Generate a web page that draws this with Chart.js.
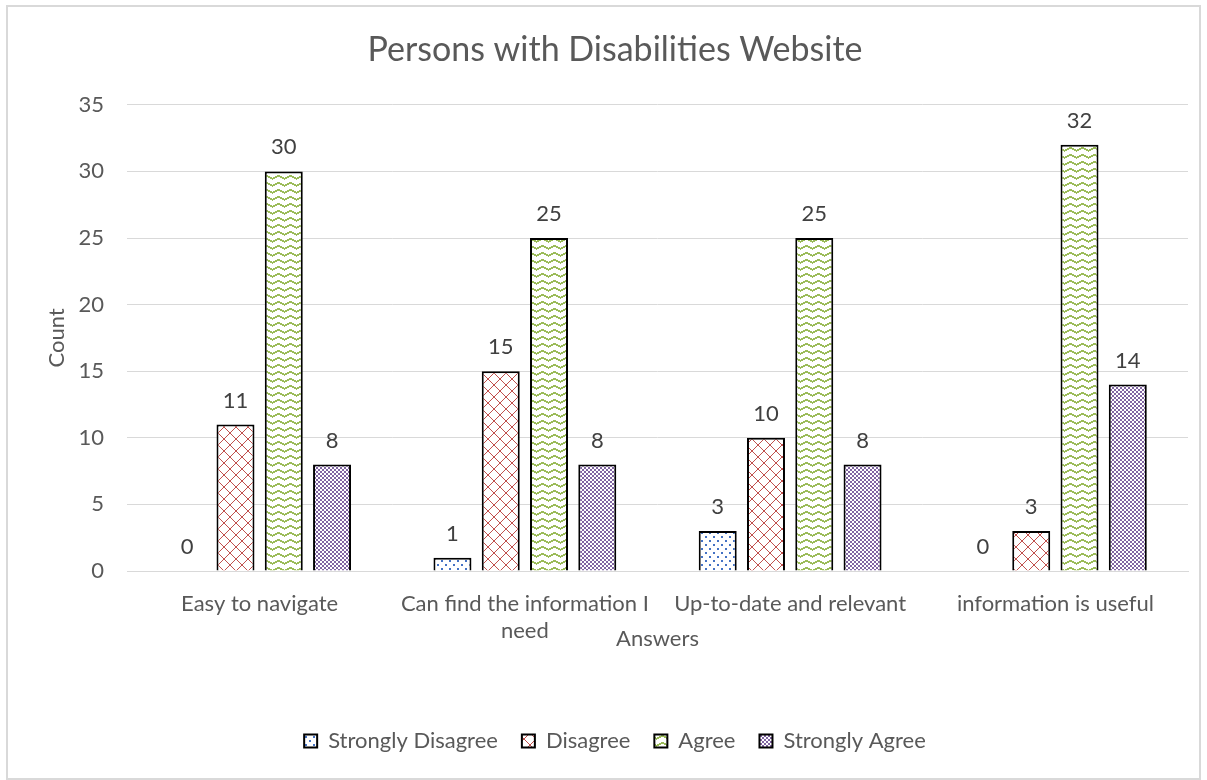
<!DOCTYPE html>
<html>
<head>
<meta charset="utf-8">
<script src="https://cdn.jsdelivr.net/npm/chart.js@4"></script>
<style>
    body { margin: 0; background: #fff; }
    #wrap {
        position: absolute; left: 6px; top: 5px;
        width: 1191px; height: 771px;
        border: 2px solid #d9d9d9;
    }
</style>
</head>
<body>
<div id="wrap"><canvas id="chart"></canvas></div>
<script>
const categories = [
    'Easy to navigate',
    ['Can find the information I', 'need'],
    'Up-to-date and relevant',
    'information is useful'
]
const stronglyDisagree = [0, 1, 3, 0]
const disagree = [11, 15, 10, 3]
const agree = [30, 25, 25, 32]
const stronglyAgree = [8, 8, 8, 14]
const yTicks = [0, 5, 10, 15, 20, 25, 30, 35]

const FONT = 'Lato'

// small tiles used as bar fills
function tile(w, h, paint) {
    const c = document.createElement('canvas')
    c.width = w
    c.height = h
    const g = c.getContext('2d')
    g.fillStyle = '#fff'
    g.fillRect(0, 0, w, h)
    paint(g)
    return document.createElement('canvas').getContext('2d').createPattern(c, 'repeat')
}

const dots = tile(8, 8, (g) => {
    g.fillStyle = '#4472c4'
    g.fillRect(1, 1, 2, 2)
    g.fillRect(5, 5, 2, 2)
})
const lattice = tile(12, 12, (g) => {
    g.fillStyle = '#c0504d'
    for (let i = 0; i < 12; i++) {
        g.fillRect(i, i, 1, 1)
        g.fillRect(11 - i, i, 1, 1)
    }
})
const zigzag = tile(12, 7, (g) => {
    g.fillStyle = '#9bbb59'
    for (let x = 0; x < 12; x++) {
        const y = Math.floor(Math.abs((x % 12) - 6) / 2)
        g.fillRect(x, y, 1, 2)
    }
})
const checks = tile(4, 4, (g) => {
    g.fillStyle = '#8064a2'
    g.fillRect(0, 0, 2, 2)
    g.fillRect(2, 2, 2, 2)
})

// value above each bar, zeros included
const valueLabels = {
    id: 'valueLabels',
    afterDatasetsDraw(chart) {
        const ctx = chart.ctx
        ctx.save()
        ctx.font = '22px ' + FONT
        ctx.fillStyle = '#404040'
        ctx.textAlign = 'center'
        ctx.textBaseline = 'middle'
        chart.data.datasets.forEach((ds, i) => {
            chart.getDatasetMeta(i).data.forEach((bar, j) => {
                ctx.fillText(ds.data[j], bar.x, bar.y - 24)
            })
        })
        ctx.restore()
    }
}

const bar = (label, data, fill) => ({
    label: label,
    data: data,
    backgroundColor: fill,
    borderColor: '#000',
    borderWidth: 2,
    categoryPercentage: 0.728,
    barPercentage: 0.787,
})

new Chart(document.getElementById('chart'), {
    type: 'bar',
    data: {
        labels: categories,
        datasets: [
            bar('Strongly Disagree', stronglyDisagree, dots),
            bar('Disagree', disagree, lattice),
            bar('Agree', agree, zigzag),
            bar('Strongly Agree', stronglyAgree, checks),
        ],
    },
    options: {
        responsive: true,
        maintainAspectRatio: false,
        animation: false,
        layout: { padding: { left: 34, right: 11, top: 0, bottom: 16 } },
        scales: {
            y: {
                min: 0,
                max: 35,
                afterBuildTicks: (axis) => {
                    axis.ticks = yTicks.map((v) => ({ value: v }))
                },
                afterFit: (axis) => { axis.width = 85 },
                grid: { color: '#d9d9d9', drawTicks: false },
                border: { display: false },
                ticks: { color: '#595959', font: { family: FONT, size: 22 }, padding: 23 },
                title: {
                    display: true,
                    text: 'Count',
                    color: '#595959',
                    font: { family: FONT, size: 22 },
                    padding: { top: 2, bottom: 0 },
                },
            },
            x: {
                afterFit: (axis) => { axis.height = 135 },
                grid: { display: false },
                border: { color: '#d9d9d9' },
                ticks: { color: '#595959', font: { family: FONT, size: 22 }, padding: 12, maxRotation: 0 },
                title: {
                    display: true,
                    text: 'Answers',
                    color: '#595959',
                    font: { family: FONT, size: 22 },
                    padding: { top: 0, bottom: 54 },
                },
            },
        },
        plugins: {
            title: {
                display: true,
                text: 'Persons with Disabilities Website',
                color: '#595959',
                font: { family: FONT, size: 34, weight: 'normal' },
                padding: { top: 23, bottom: 34 },
            },
            legend: {
                position: 'bottom',
                labels: {
                    color: '#595959',
                    font: { family: FONT, size: 22 },
                    boxWidth: 13,
                    boxHeight: 13,
                    padding: 24,
                },
            },
            tooltip: { enabled: false },
        },
    },
    plugins: [valueLabels],
})
</script>
</body>
</html>
